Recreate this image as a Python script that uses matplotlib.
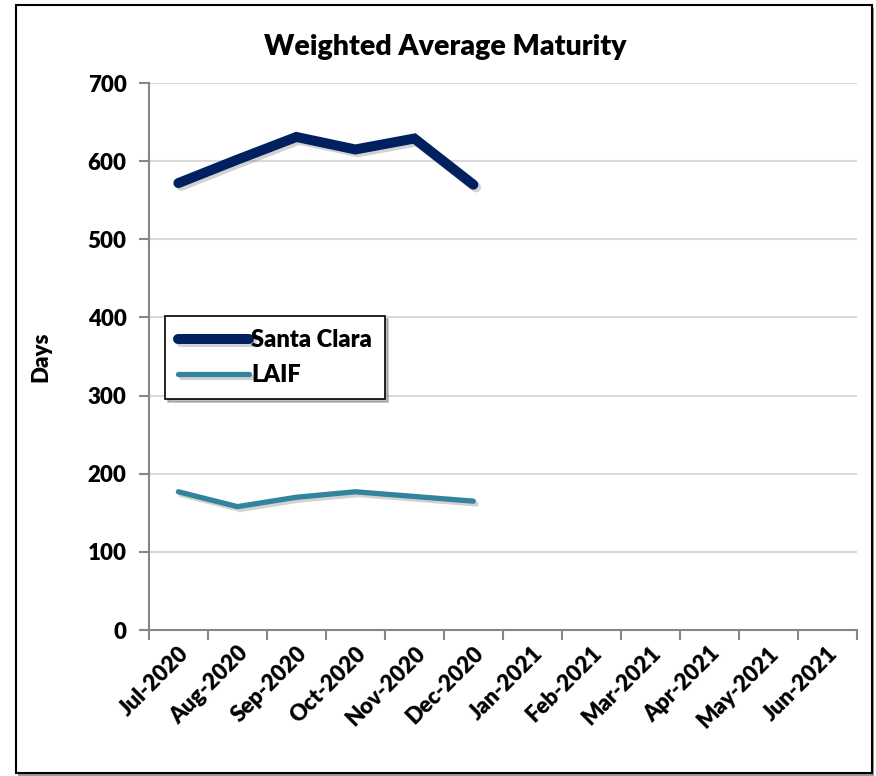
import matplotlib
matplotlib.use('Agg')
import matplotlib.pyplot as plt
import matplotlib.patheffects as pe
from matplotlib.patches import Rectangle
import numpy as np

plt.rcParams['font.family'] = ['Lato', 'DejaVu Sans']
W = 'heavy'

# Datos
months = ['Jul-2020', 'Aug-2020', 'Sep-2020', 'Oct-2020', 'Nov-2020', 'Dec-2020',
          'Jan-2021', 'Feb-2021', 'Mar-2021', 'Apr-2021', 'May-2021', 'Jun-2021']
santa_clara = [572, 602, 631, 615, 629, 570]
laif = [177, 158, 170, 177, 171, 165]

fig = plt.figure(figsize=(8.76, 7.76), dpi=100)
ax = fig.add_axes([0.170, 0.188, 0.808, 0.705])

x = np.arange(len(months))
shadow = [pe.SimpleLineShadow(offset=(2, -2), shadow_color='gray', alpha=0.35), pe.Normal()]
ax.plot(x[:len(santa_clara)], santa_clara, color='#002060', linewidth=7.2,
        solid_capstyle='round', solid_joinstyle='miter', label='Santa Clara', path_effects=shadow)
ax.plot(x[:len(laif)], laif, color='#31849B', linewidth=3.8,
        solid_capstyle='round', solid_joinstyle='miter', label='LAIF', path_effects=shadow)

ax.set_xlim(-0.5, len(months) - 0.5)
ax.set_ylim(0, 700)
ax.set_yticks(range(0, 701, 100))
ax.set_xticks(np.arange(-0.5, len(months), 1.0))
ax.set_xticklabels([])
ax.set_xticks(x, minor=True)
ax.set_xticklabels(months, minor=True, rotation=45, ha='right', va='top',
                   rotation_mode='anchor', fontsize=16, fontweight=W)
ax.tick_params(axis='x', which='minor', length=0, pad=9)
ax.tick_params(axis='x', which='major', length=7, color='#868686', width=1.5)
ax.tick_params(axis='y', length=7, color='#868686', width=1.5, labelsize=16, pad=9)
for lbl in ax.get_yticklabels():
    lbl.set_fontweight(W)

ax.grid(axis='y', color='#D9D9D9', linewidth=1.5)
ax.set_axisbelow(True)
for s in ['top', 'right']:
    ax.spines[s].set_visible(False)
for s in ['left', 'bottom']:
    ax.spines[s].set_color('#868686')
    ax.spines[s].set_linewidth(1.5)

ax.set_ylabel('Days', fontsize=16, fontweight=W, labelpad=26)
fig.text(0.508, 0.940, 'Weighted Average Maturity', ha='center', va='center',
         fontsize=20.5, fontweight=W)

leg = ax.legend(loc='upper left', bbox_to_anchor=(0.0226, 0.574), borderaxespad=0,
                frameon=True, fancybox=False, shadow={'color': 'gray', 'alpha': 0.5},
                fontsize=17, handlelength=3.0, handletextpad=0.1, borderpad=0.55,
                labelspacing=0.55)
leg.get_frame().set_edgecolor('black')
leg.get_frame().set_linewidth(1.2)
for t in leg.get_texts():
    t.set_fontweight(W)

# Marco de la figura con sombra
fig.patches.append(Rectangle((0.021, 0.0), 0.977, 0.990, transform=fig.transFigure,
                             facecolor='#999999', edgecolor='none', zorder=-2))
fig.patches.append(Rectangle((0.018, 0.004), 0.977, 0.989, transform=fig.transFigure,
                             facecolor='white', edgecolor='black', linewidth=1.5, zorder=-1))

fig.savefig('out.png', dpi=100)
